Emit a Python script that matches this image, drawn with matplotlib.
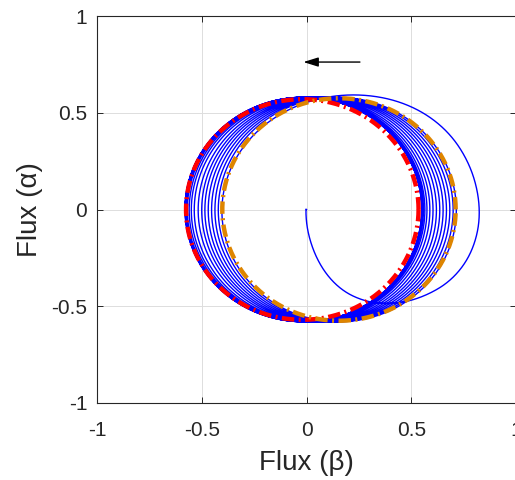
import numpy as np
import matplotlib.pyplot as plt

plt.rcParams['font.family'] = ['Liberation Sans', 'DejaVu Sans']
plt.rcParams['axes.unicode_minus'] = False

# flux vector: rotating ellipse whose centre drifts back to the origin
orbit_rx = 0.565
orbit_ry = 0.58

# centre of the rotating vector, sampled in turns since start-up
turn_marks = [0.0, 0.125, 0.25, 0.375, 0.5, 0.625, 0.75, 0.875, 1.0] + \
    list(np.arange(1.5, 17.01, 0.5))
centre_beta = [0.565, 0.55, 0.42, 0.30, 0.25, 0.25, 0.20, 0.17, 0.16,
               0.15, 0.144, 0.135, 0.128, 0.119, 0.112, 0.103, 0.096,
               0.087, 0.080, 0.071, 0.065, 0.055, 0.048, 0.039, 0.029,
               0.024, 0.015, 0.010, 0.005, 0.0, -0.004, -0.007, -0.009,
               -0.011, -0.012, -0.013, -0.014, -0.015, -0.015, -0.015,
               -0.015]
centre_alpha = [0.0, 0.02, 0.12, 0.08, 0.0, 0.03, 0.01, 0.0, 0.0] + \
    [0.0] * 32

# reference loci (centre, semi-axes)
red_centre = (-0.02, 0.0)
red_axes = (0.555, 0.57)
orange_centre = (0.155, 0.0)
orange_axes = (0.557, 0.575)

ticks = [-1, -0.5, 0, 0.5, 1]
tick_text = ['-1', '-0.5', '0', '0.5', '1']

# build the trajectory
turns = np.linspace(0, turn_marks[-1], 40000)
cb = np.interp(turns, turn_marks, centre_beta)
ca = np.interp(turns, turn_marks, centre_alpha)
k = 400
kern = np.ones(k) / k
cb = np.convolve(np.pad(cb, k // 2, mode='edge'), kern, mode='same')[k // 2:-(k // 2)]
ca = np.convolve(np.pad(ca, k // 2, mode='edge'), kern, mode='same')[k // 2:-(k // 2)]
phi = np.pi + 2 * np.pi * turns
traj_x = cb + orbit_rx * np.cos(phi)
traj_y = ca + orbit_ry * np.sin(phi)
traj_x[0], traj_y[0] = 0.0, 0.0

th = np.linspace(0, 2 * np.pi, 400)
dashdot = (0, (2.8, 1.0, 0.45, 1.0))

fig = plt.figure(figsize=(5.15, 4.8), dpi=100)
ax = fig.add_axes([97 / 515, 77 / 480, 419 / 515, 387 / 480])

ax.plot(traj_x, traj_y, color='#0000FF', lw=1.0, zorder=3)
ax.plot(red_centre[0] + red_axes[0] * np.cos(th),
        red_centre[1] + red_axes[1] * np.sin(th),
        color='#FF0000', lw=3.2, linestyle=dashdot, zorder=4)
ax.plot(orange_centre[0] + orange_axes[0] * np.cos(th),
        orange_centre[1] + orange_axes[1] * np.sin(th),
        color='#DE8500', lw=3.2, linestyle=dashdot, zorder=5)

ax.annotate('', xy=(-0.015, 0.762), xytext=(0.255, 0.762),
            arrowprops=dict(arrowstyle='-|>,head_length=0.9,head_width=0.28',
                            color='black', lw=1.0, shrinkA=0, shrinkB=0))

ax.set_xlim(-1, 1)
ax.set_ylim(-1, 1)
ax.set_xticks(ticks)
ax.set_yticks(ticks)
ax.set_xticklabels(tick_text)
ax.set_yticklabels(tick_text)
ax.grid(True, color='#DDDDDD', lw=0.7)
ax.set_axisbelow(True)
ax.tick_params(direction='in', length=4, width=0.7, labelsize=15,
               colors='#262626', top=True, right=True)
ax.tick_params(axis='x', pad=13)
ax.tick_params(axis='y', pad=7)
for s in ax.spines.values():
    s.set_color('#262626')
    s.set_linewidth(0.8)
ax.set_xlabel('Flux (β)', fontsize=20, color='#262626', labelpad=7)
ax.set_ylabel('Flux (α)', fontsize=20, color='#262626', labelpad=6)

fig.savefig('out.png', dpi=100)
